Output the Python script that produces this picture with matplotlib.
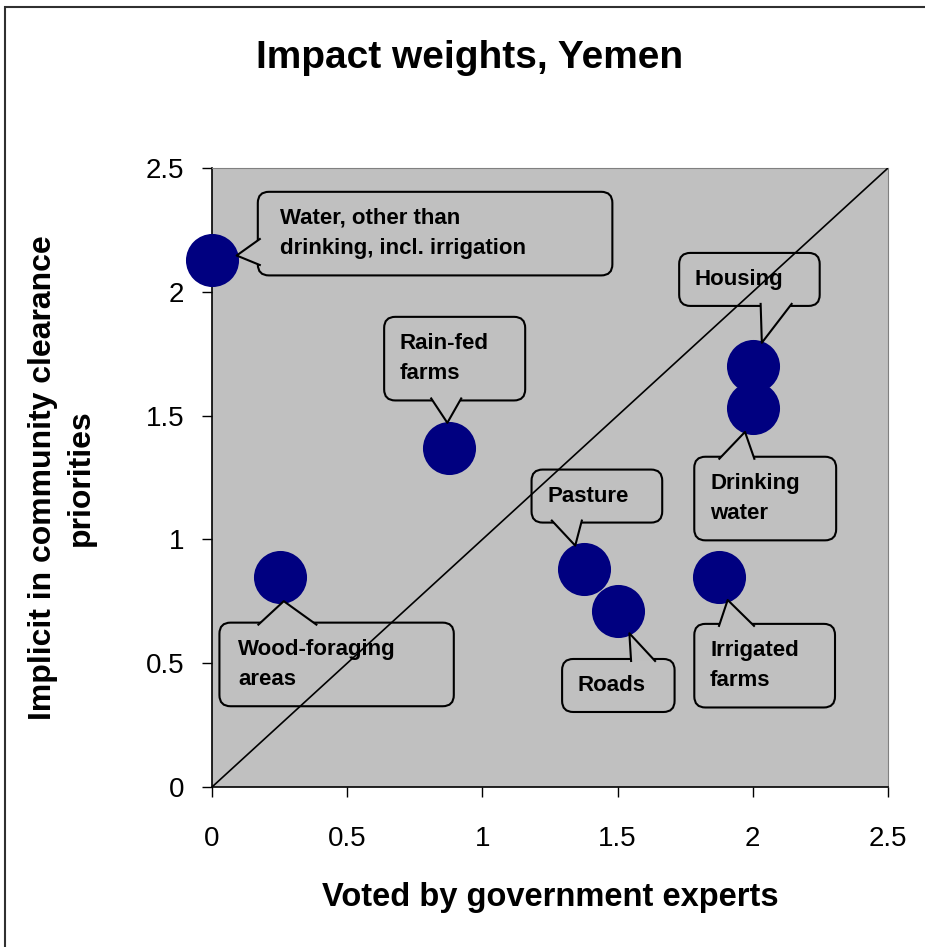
import numpy as np
import matplotlib.pyplot as plt
from matplotlib.patches import Rectangle, Polygon, BoxStyle

plt.rcParams['font.family'] = ['Liberation Sans', 'DejaVu Sans']

# Datos
etiquetas = ['Water, other than\ndrinking, incl. irrigation', 'Rain-fed\nfarms', 'Housing',
             'Drinking\nwater', 'Pasture', 'Roads', 'Irrigated\nfarms', 'Wood-foraging\nareas']
votos_expertos = [0.0, 0.875, 2.0, 2.0, 1.375, 1.5, 1.875, 0.25]
prioridad_comunidad = [2.13, 1.37, 1.70, 1.53, 0.88, 0.71, 0.85, 0.85]
ticks = [0, 0.5, 1, 1.5, 2, 2.5]
tick_labels = ['0', '0.5', '1', '1.5', '2', '2.5']

# Posicion de las etiquetas (borde izquierdo del texto, centro vertical) y
# puntero: lado de la caja, fraccion sobre ese lado, ancho de la base en px
pos_texto = [(0.251, 2.235), (0.695, 1.73), (1.786, 2.05), (1.842, 1.165),
             (1.239, 1.175), (1.350, 0.41), (1.842, 0.49), (0.096, 0.495)]
punteros = [('left', 0.28, 26), ('bottom', 0.44, 30), ('bottom', 0.69, 31), ('top', 0.3, 35),
            ('bottom', 0.27, 30), ('top', 0.72, 24), ('top', 0.3, 35), ('top', 0.29, 58)]
GRIS = '#c0c0c0'


# Caja redondeada; margen derecho mayor que crece con el texto (el original va espaciado)
def caja(x0, y0, width, height, mutation_size):
    pad_izq = 0.55 * mutation_size + 0.04 * width
    pad_der = 0.35 * mutation_size + 0.32 * width
    pady = 0.72 * mutation_size
    return BoxStyle.Round(pad=0, rounding_size=0.5)(
        x0 - pad_izq, y0 - pady, width + pad_izq + pad_der, height + 2 * pady, mutation_size)


fig = plt.figure(figsize=(9.25, 9.47), dpi=100)
ax = fig.add_axes([212/925, 160/947, 676/925, 619/947])
ax.set_facecolor(GRIS)

ax.scatter(votos_expertos, prioridad_comunidad, s=1460, color='#000080', zorder=3,
           linewidths=0, clip_on=False)

# Linea diagonal
ax.plot([0, 2.5], [0, 2.5], color='black', lw=1.2, zorder=7)

textos = []
for etq, xt in zip(etiquetas, pos_texto):
    t = ax.text(xt[0], xt[1], etq, ha='left', va='center', multialignment='left',
                fontsize=16, fontweight='bold', linespacing=1.6, zorder=5,
                bbox=dict(boxstyle=caja, fc='none', ec='black', lw=1.5))
    textos.append(t)

ax.set_xlim(0, 2.5)
ax.set_ylim(0, 2.5)
ax.set_xticks(ticks)
ax.set_xticklabels(tick_labels)
ax.set_yticks(ticks)
ax.set_yticklabels(tick_labels)
ax.tick_params(direction='out', length=7, width=1, labelsize=20)
ax.tick_params(axis='x', pad=21)
ax.tick_params(axis='y', pad=13)
for lado in ['top', 'right']:
    ax.spines[lado].set_color('#808080')
ax.spines['left'].set_linewidth(1.2)
ax.spines['bottom'].set_linewidth(1.2)

ax.set_xlabel('Voted by government experts', fontsize=23.5, fontweight='bold', labelpad=22)
ax.set_ylabel('Implicit in community clearance\npriorities', fontsize=23, fontweight='bold',
              labelpad=36, linespacing=1.35)

fig.text(470/925, 1 - 58/947, 'Impact weights, Yemen', ha='center', va='center',
         fontsize=28, fontweight='bold')

# Marco de la figura
fig.patches.append(Rectangle((5/925, -0.1), 1.2, 1.1 - 7/947, transform=fig.transFigure,
                             fill=False, ec='#303030', lw=1.5))

# Punteros de los globos: se calculan despues de dibujar para conocer el tamano de las cajas
fig.canvas.draw()
a_datos = ax.transData.inverted()
radio = 25
for t, x, y, (lado, frac, ancho) in zip(textos, votos_expertos, prioridad_comunidad, punteros):
    bb = t.get_bbox_patch().get_window_extent()
    if lado == 'left':
        cx, cy = bb.x0, bb.y0 + frac * bb.height
        b1, b2 = (cx + 2, cy - ancho / 2), (cx + 2, cy + ancho / 2)
    elif lado == 'bottom':
        cx, cy = bb.x0 + frac * bb.width, bb.y0
        b1, b2 = (cx - ancho / 2, cy + 2), (cx + ancho / 2, cy + 2)
    else:
        cx, cy = bb.x0 + frac * bb.width, bb.y1
        b1, b2 = (cx - ancho / 2, cy - 2), (cx + ancho / 2, cy - 2)
    px, py = ax.transData.transform((x, y))
    d = np.hypot(cx - px, cy - py)
    punta = (px + radio * (cx - px) / d, py + radio * (cy - py) / d)
    pts = a_datos.transform([b1, punta, b2])
    ax.add_patch(Polygon(pts, closed=True, fc=GRIS, ec='none', zorder=6))
    ax.plot(pts[:, 0], pts[:, 1], color='black', lw=1.5, zorder=6)

fig.savefig('out.png', dpi=100)
